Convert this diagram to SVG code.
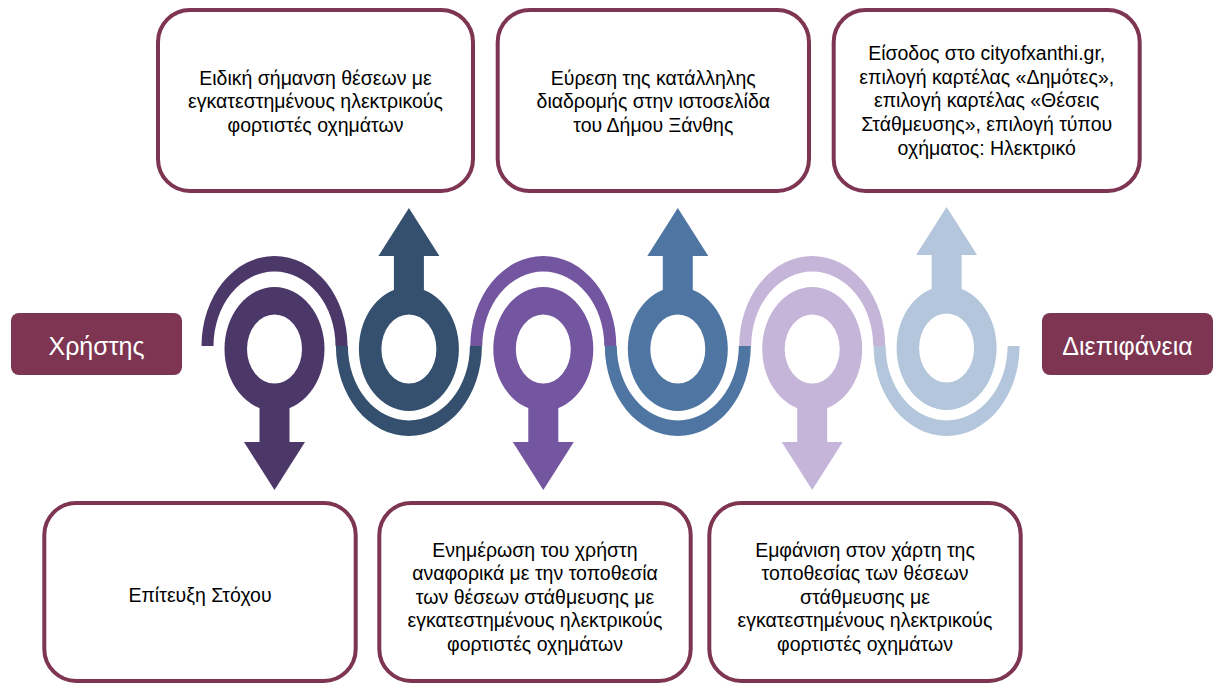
<svg xmlns="http://www.w3.org/2000/svg" xmlns:xlink="http://www.w3.org/1999/xlink" width="1214" height="684" viewBox="0 0 1214 684">
<style>
.box{fill:#ffffff;stroke:#7D3551;stroke-width:4}
.lab{fill:#7D3551}
.t{font-family:"Liberation Sans",Arial,sans-serif;font-size:19.5px;fill:#000;text-anchor:middle}
.lt{font-family:"Liberation Sans",Arial,sans-serif;font-size:25px;fill:#fff;text-anchor:middle}
.c1{fill:#4B3869}.c2{fill:#34506E}.c3{fill:#7355A0}.c4{fill:#4F76A3}.c5{fill:#C5B6D9}.c6{fill:#B4C6DC}
</style>
<defs>
<g id="ringDown">
<path fill-rule="evenodd" d="M-50,0 a50,62 0 1,0 100,0 a50,62 0 1,0 -100,0 Z M-27.5,0 a27.5,34.5 0 1,0 55,0 a27.5,34.5 0 1,0 -55,0 Z"/>
<rect x="-15" y="50" width="30" height="44"/>
<polygon points="-30.5,93 30.5,93 0,141"/>
</g>
<g id="ringUp">
<path fill-rule="evenodd" d="M-50,0 a50,62 0 1,0 100,0 a50,62 0 1,0 -100,0 Z M-27.5,0 a27.5,34.5 0 1,0 55,0 a27.5,34.5 0 1,0 -55,0 Z"/>
<rect x="-15" y="-94" width="30" height="44"/>
<polygon points="-30.5,-93 30.5,-93 0,-141"/>
</g>
<path id="arcUp" d="M-73,0 A73,90 0 0,1 73,0 L61,0 A61,74.5 0 0,0 -61,0 Z"/>
<path id="arcDown" d="M-73,0 A73,90 0 0,0 73,0 L61,0 A61,74.5 0 0,1 -61,0 Z"/>
</defs>

<g id="connectors">
<use xlink:href="#arcUp" class="c1" transform="translate(274.5,346)"/>
<use xlink:href="#arcDown" class="c2" transform="translate(408.9,346)"/>
<use xlink:href="#arcUp" class="c3" transform="translate(543.3,346)"/>
<use xlink:href="#arcDown" class="c4" transform="translate(677.8,346)"/>
<use xlink:href="#arcUp" class="c5" transform="translate(812.2,346)"/>
<use xlink:href="#arcDown" class="c6" transform="translate(946.6,346)"/>
</g>

<g id="shape1"><use xlink:href="#ringDown" class="c1" transform="translate(274.5,349)"/></g>
<g id="shape2"><use xlink:href="#ringUp" class="c2" transform="translate(408.9,349)"/></g>
<g id="shape3"><use xlink:href="#ringDown" class="c3" transform="translate(543.3,349)"/></g>
<g id="shape4"><use xlink:href="#ringUp" class="c4" transform="translate(677.8,349)"/></g>
<g id="shape5"><use xlink:href="#ringDown" class="c5" transform="translate(812.2,349)"/></g>
<g id="shape6"><use xlink:href="#ringUp" class="c6" transform="translate(946.6,348)"/></g>

<g id="user">
<rect class="lab" x="11" y="313" width="171" height="62" rx="8"/>
<text class="lt" x="96.5" y="355">Χρήστης</text>
</g>
<g id="interface">
<rect class="lab" x="1042" y="313" width="171" height="62" rx="8"/>
<text class="lt" x="1127.5" y="355">Διεπιφάνεια</text>
</g>

<g id="box1">
<rect class="box" x="158" y="10" width="315" height="181" rx="32"/>
<text class="t" x="315.5" y="84.5">Ειδική σήμανση θέσεων με</text>
<text class="t" x="315.5" y="108">εγκατεστημένους ηλεκτρικούς</text>
<text class="t" x="315.5" y="131.5">φορτιστές οχημάτων</text>
</g>
<g id="box2">
<rect class="box" x="497.7" y="10" width="311.3" height="181" rx="32"/>
<text class="t" x="653.3" y="84.5">Εύρεση της κατάλληλης</text>
<text class="t" x="653.3" y="108">διαδρομής στην ιστοσελίδα</text>
<text class="t" x="653.3" y="131.5">του Δήμου Ξάνθης</text>
</g>
<g id="box3">
<rect class="box" x="833.7" y="10" width="306" height="181" rx="32"/>
<text class="t" x="986.7" y="60">Είσοδος στο cityofxanthi.gr,</text>
<text class="t" x="986.7" y="83.5">επιλογή καρτέλας «Δημότες»,</text>
<text class="t" x="986.7" y="107">επιλογή καρτέλας «Θέσεις</text>
<text class="t" x="986.7" y="130.5">Στάθμευσης», επιλογή τύπου</text>
<text class="t" x="986.7" y="154.5">οχήματος: Ηλεκτρικό</text>
</g>
<g id="box4">
<rect class="box" x="44.3" y="503" width="311.4" height="178" rx="32"/>
<text class="t" x="200" y="601.5">Επίτευξη Στόχου</text>
</g>
<g id="box5">
<rect class="box" x="379.3" y="503" width="311.4" height="178" rx="32"/>
<text class="t" x="535" y="556.5">Ενημέρωση του χρήστη</text>
<text class="t" x="535" y="580">αναφορικά με την τοποθεσία</text>
<text class="t" x="535" y="603.5">των θέσεων στάθμευσης με</text>
<text class="t" x="535" y="627">εγκατεστημένους ηλεκτρικούς</text>
<text class="t" x="535" y="650.5">φορτιστές οχημάτων</text>
</g>
<g id="box6">
<rect class="box" x="709.3" y="503" width="311.4" height="178" rx="32"/>
<text class="t" x="865" y="556.5">Εμφάνιση στον χάρτη της</text>
<text class="t" x="865" y="580">τοποθεσίας των θέσεων</text>
<text class="t" x="865" y="603.5">στάθμευσης με</text>
<text class="t" x="865" y="627">εγκατεστημένους ηλεκτρικούς</text>
<text class="t" x="865" y="650.5">φορτιστές οχημάτων</text>
</g>
</svg>
